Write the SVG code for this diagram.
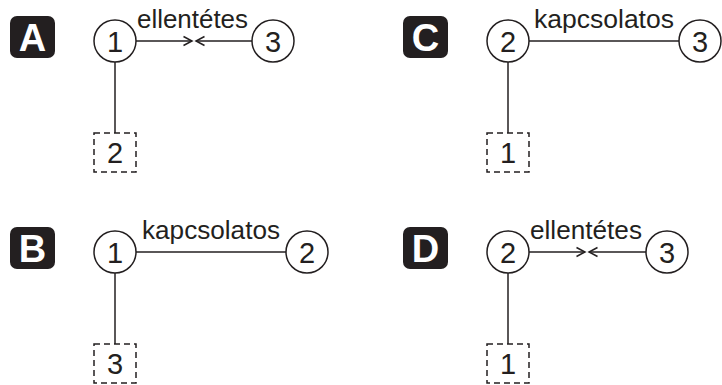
<svg xmlns="http://www.w3.org/2000/svg" width="722" height="385" viewBox="0 0 722 385">
<style>
.badge{fill:#231f20}
.bl{fill:#fff;font-family:"Liberation Sans",Arial,sans-serif;font-weight:bold;font-size:38px;text-anchor:middle}
.node{fill:#fff;stroke:#231f20;stroke-width:1.5}
.dash{fill:#fff;stroke:#231f20;stroke-width:1.5;stroke-dasharray:6 4}
.num{font-family:"Liberation Sans",Arial,sans-serif;font-size:29px;fill:#231f20;text-anchor:middle}
.lbl{font-family:"Liberation Sans",Arial,sans-serif;font-size:26px;fill:#231f20}
.edge{stroke:#231f20;stroke-width:1.5;fill:none}
.arr{marker-end:url(#chev)}
</style>
<defs>
<marker id="chev" viewBox="0 0 12 12" refX="10" refY="6" markerWidth="12" markerHeight="12" markerUnits="userSpaceOnUse" orient="auto">
<path d="M1.5,1.5 L10,6 L1.5,10.5" fill="none" stroke="#231f20" stroke-width="1.5"/>
</marker>
</defs>
<rect width="722" height="385" fill="#fff"/>

<g id="connectors">
<line class="edge arr" x1="136" y1="41" x2="192" y2="41"/>
<line class="edge arr" x1="252" y1="41" x2="196" y2="41"/>
<line class="edge" x1="115" y1="62" x2="115" y2="133"/>
<line class="edge" x1="529" y1="41" x2="679" y2="41"/>
<line class="edge" x1="508" y1="62" x2="508" y2="133"/>
<line class="edge" x1="136" y1="252" x2="286" y2="252"/>
<line class="edge" x1="115" y1="273" x2="115" y2="344"/>
<line class="edge arr" x1="529" y1="252" x2="585" y2="252"/>
<line class="edge arr" x1="646" y1="252" x2="589" y2="252"/>
<line class="edge" x1="508" y1="273" x2="508" y2="344"/>
</g>

<g id="labels">
<text class="lbl" x="137" y="28" textLength="111" lengthAdjust="spacingAndGlyphs">ellentétes</text>
<text class="lbl" x="534" y="28" textLength="140" lengthAdjust="spacingAndGlyphs">kapcsolatos</text>
<text class="lbl" x="142" y="239" textLength="138" lengthAdjust="spacingAndGlyphs">kapcsolatos</text>
<text class="lbl" x="530" y="239" textLength="112" lengthAdjust="spacingAndGlyphs">ellentétes</text>
</g>

<g id="badge-A"><rect class="badge" x="10" y="16" width="45" height="42" rx="7"/><text class="bl" x="32.5" y="50.5">A</text></g>
<g id="badge-C"><rect class="badge" x="403" y="16" width="45" height="42" rx="7"/><text class="bl" x="425.5" y="50.5">C</text></g>
<g id="badge-B"><rect class="badge" x="10" y="227" width="45" height="42" rx="7"/><text class="bl" x="32.5" y="261.5">B</text></g>
<g id="badge-D"><rect class="badge" x="403" y="227" width="45" height="42" rx="7"/><text class="bl" x="425.5" y="261.5">D</text></g>

<g id="A-n1"><circle class="node" cx="115" cy="41" r="21"/><text class="num" x="115" y="51.5">1</text></g>
<g id="A-n3"><circle class="node" cx="273" cy="41" r="21"/><text class="num" x="273" y="51.5">3</text></g>
<g id="A-n2"><rect class="dash" x="94" y="133" width="42" height="39"/><text class="num" x="115" y="163">2</text></g>

<g id="C-n2"><circle class="node" cx="508" cy="41" r="21"/><text class="num" x="508" y="51.5">2</text></g>
<g id="C-n3"><circle class="node" cx="700" cy="41" r="21"/><text class="num" x="700" y="51.5">3</text></g>
<g id="C-n1"><rect class="dash" x="487" y="133" width="42" height="39"/><text class="num" x="508" y="163">1</text></g>

<g id="B-n1"><circle class="node" cx="115" cy="252" r="21"/><text class="num" x="115" y="262.5">1</text></g>
<g id="B-n2"><circle class="node" cx="307" cy="252" r="21"/><text class="num" x="307" y="262.5">2</text></g>
<g id="B-n3"><rect class="dash" x="94" y="344" width="42" height="39"/><text class="num" x="115" y="374">3</text></g>

<g id="D-n2"><circle class="node" cx="508" cy="252" r="21"/><text class="num" x="508" y="262.5">2</text></g>
<g id="D-n3"><circle class="node" cx="667" cy="252" r="21"/><text class="num" x="667" y="262.5">3</text></g>
<g id="D-n1"><rect class="dash" x="487" y="344" width="42" height="39"/><text class="num" x="508" y="374">1</text></g>
</svg>
